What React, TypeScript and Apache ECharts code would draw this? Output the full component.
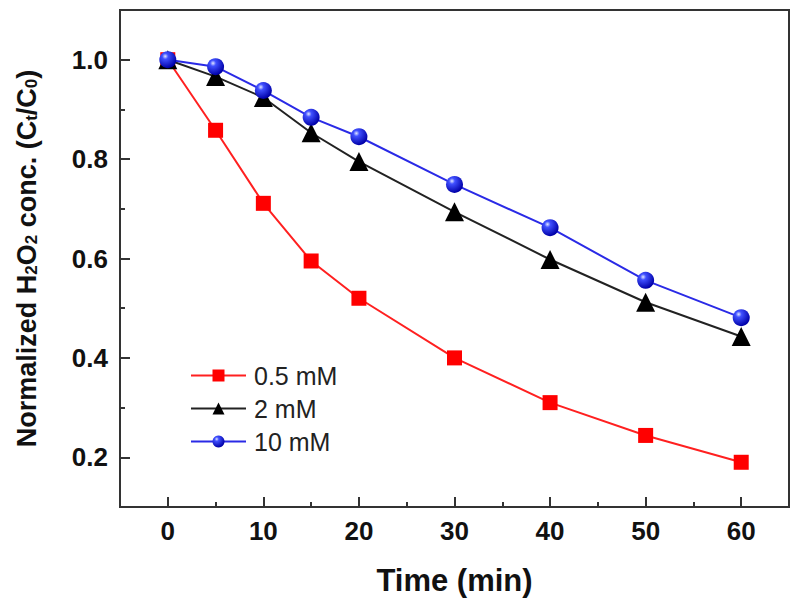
import React, { useEffect, useRef } from "react";
import * as echarts from "echarts";

const times = [0, 5, 10, 15, 20, 30, 40, 50, 60];
const conc05 = [1.0, 0.858, 0.711, 0.595, 0.52, 0.4, 0.31, 0.244, 0.19];
const conc2 = [1.0, 0.966, 0.924, 0.853, 0.795, 0.694, 0.598, 0.512, 0.443];
const conc10 = [1.0, 0.986, 0.938, 0.884, 0.845, 0.749, 0.662, 0.556, 0.481];
const seriesNames = ["0.5 mM", "2 mM", "10 mM"];
const xMajor = [0, 10, 20, 30, 40, 50, 60];
const xMinor = [5, 15, 25, 35, 45, 55];
const yMajor = [0.2, 0.4, 0.6, 0.8, 1.0];
const yMinor = [0.3, 0.5, 0.7, 0.9];

export default function App() {
  const ref = useRef<HTMLDivElement>(null);
  useEffect(() => {
    const chart = echarts.init(ref.current!, null, { renderer: "svg" });
    const font = "'Liberation Sans', Arial, sans-serif";
    const axisColor = "#333";
    const pair = (vals: number[]) => times.map((t, i) => [t, vals[i]]);
    const sphere = new echarts.graphic.RadialGradient(0.35, 0.3, 0.7, [
      { offset: 0, color: "#e0e6ff" },
      { offset: 0.25, color: "#4050ff" },
      { offset: 1, color: "#0000a8" },
    ]);
    chart.setOption({
      animation: false,
      backgroundColor: "#fff",
      grid: {
        left: 120,
        right: 11,
        top: 10,
        bottom: 101,
        show: true,
        borderColor: axisColor,
        borderWidth: 2,
        backgroundColor: "transparent",
      },
      legend: {
        left: 185,
        top: 358,
        orient: "vertical",
        itemWidth: 55,
        itemHeight: 15,
        itemGap: 8,
        data: seriesNames,
        textStyle: { fontFamily: font, fontSize: 25, color: "#222", padding: [0, 0, 0, 3] },
      },
      xAxis: [
        {
          type: "value",
          min: -5,
          max: 65,
          name: "Time (min)",
          nameLocation: "middle",
          nameGap: 58,
          nameTextStyle: { fontFamily: font, fontSize: 31, fontWeight: "bold", color: "#111" },
          splitLine: { show: false },
          axisLine: { show: true, onZero: false, lineStyle: { color: axisColor, width: 2 } },
          axisTick: { show: true, inside: true, length: 10, lineStyle: { color: axisColor, width: 2 }, customValues: xMajor },
          axisLabel: { customValues: xMajor, margin: 11, fontFamily: font, fontSize: 26, fontWeight: "bold", color: "#111" },
        },
        {
          type: "value",
          min: -5,
          max: 65,
          position: "bottom",
          splitLine: { show: false },
          axisLine: { show: false, onZero: false },
          axisTick: { show: true, inside: true, length: 5, lineStyle: { color: axisColor, width: 2 }, customValues: xMinor },
          axisLabel: { show: false },
        },
      ],
      yAxis: [
        {
          type: "value",
          min: 0.1,
          max: 1.1,
          name: "Normalized H{sub|2}O{sub|2} conc. (C{sub|t}/C{sub|0})",
          nameLocation: "middle",
          nameGap: 80,
          nameTextStyle: {
            fontFamily: font,
            fontSize: 27,
            fontWeight: "bold",
            color: "#111",
            rich: {
              sub: { fontFamily: font, fontSize: 17, fontWeight: "bold", color: "#111", verticalAlign: "bottom", padding: [10, 0, 0, 0] },
            },
          },
          splitLine: { show: false },
          axisLine: { show: true, onZero: false, lineStyle: { color: axisColor, width: 2 } },
          axisTick: { show: true, inside: true, length: 10, lineStyle: { color: axisColor, width: 2 }, customValues: yMajor },
          axisLabel: {
            customValues: yMajor,
            margin: 12,
            fontFamily: font,
            fontSize: 26,
            fontWeight: "bold",
            color: "#111",
            formatter: (v: number) => v.toFixed(1),
          },
        },
        {
          type: "value",
          min: 0.1,
          max: 1.1,
          position: "left",
          splitLine: { show: false },
          axisLine: { show: false, onZero: false },
          axisTick: { show: true, inside: true, length: 5, lineStyle: { color: axisColor, width: 2 }, customValues: yMinor },
          axisLabel: { show: false },
        },
      ],
      series: [
        {
          name: seriesNames[0],
          type: "line",
          data: pair(conc05),
          symbol: "rect",
          symbolSize: 15,
          lineStyle: { color: "#ff2020", width: 2 },
          itemStyle: { color: "#ff0000" },
          z: 3,
        },
        {
          name: seriesNames[1],
          type: "line",
          data: pair(conc2),
          symbol: "triangle",
          symbolSize: 19,
          lineStyle: { color: "#222", width: 2 },
          itemStyle: { color: "#000" },
          z: 4,
        },
        {
          name: seriesNames[2],
          type: "line",
          data: pair(conc10),
          symbol: "circle",
          symbolSize: 17,
          lineStyle: { color: "#2a2ae6", width: 2 },
          itemStyle: { color: sphere },
          z: 5,
        },
      ],
    });
    return () => chart.dispose();
  }, []);
  return <div ref={ref} style={{ width: 800, height: 608, position: "absolute", left: 0, top: 0 }} />;
}
